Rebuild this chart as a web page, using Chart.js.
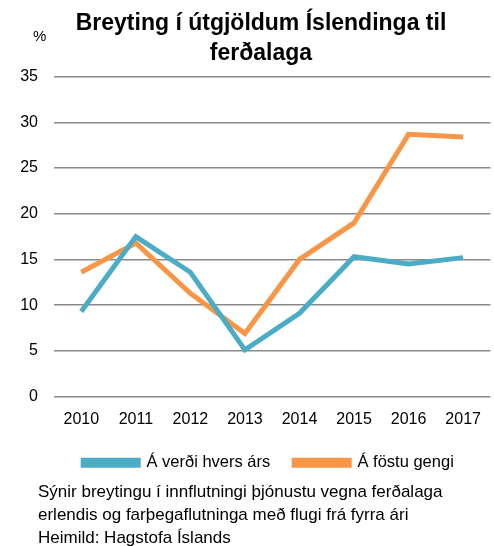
<!DOCTYPE html>
<html><head><meta charset="utf-8">
<script src="https://cdn.jsdelivr.net/npm/chart.js@4/dist/chart.umd.min.js"></script>
<style>
html,body{margin:0;padding:0;background:#fff;}
#wrap{position:relative;width:494px;height:546px;}
#c{position:absolute;left:0;top:0;}
.t{position:absolute;font-family:"Liberation Sans",Arial,sans-serif;color:#000;}
#pct{left:33px;top:27px;font-size:15px;}
#cap{left:38px;top:480px;font-size:17px;line-height:23px;white-space:nowrap;}
</style></head><body>
<div id="wrap">
<canvas id="c" width="494" height="546"></canvas>
<div class="t" id="pct">%</div>
<div class="t" id="cap">Sýnir breytingu í innflutningi þjónustu vegna ferðalaga<br>erlendis og farþegaflutninga með flugi frá fyrra ári<br>Heimild: Hagstofa Íslands</div>
</div>
<script>
const years = ["2010","2011","2012","2013","2014","2015","2016","2017"];
const verdiHversArs = [9.3, 17.5, 13.6, 5.1, 9.1, 15.3, 14.5, 15.2];
const fostuGengi = [13.6, 16.8, 11.3, 6.9, 15.0, 19.0, 28.7, 28.4];
const seriesNames = ["Á verði hvers árs", "Á föstu gengi"];
const titleLines = ["Breyting í útgjöldum Íslendinga til", "ferðalaga"];

const FONT = "'Liberation Sans', Arial, sans-serif";
const shiftBlocks = {
  id: 'shiftBlocks',
  afterLayout(chart) {
    if (chart.titleBlock) { chart.titleBlock.left += 29; }
    if (chart.legend) { chart.legend.left += 22; chart.legend.right += 22; }
  }
};
new Chart(document.getElementById('c'), {
  type: 'line',
  data: {
    labels: years,
    datasets: [
      {label: seriesNames[0], data: verdiHversArs, borderColor: '#4BACC6', backgroundColor: '#4BACC6', borderWidth: 5, pointRadius: 0, tension: 0},
      {label: seriesNames[1], data: fostuGengi, borderColor: '#F79646', backgroundColor: '#F79646', borderWidth: 5, pointRadius: 0, tension: 0}
    ]
  },
  options: {
    responsive: false,
    animation: false,
    layout: {padding: {left: 0, right: 1, top: 4, bottom: 65}},
    plugins: {
      title: {display: true, text: titleLines, color: '#000', font: {family: FONT, size: 23, weight: 'bold', lineHeight: 1.32}, padding: {top: 4, bottom: 8}},
      legend: {position: 'bottom', labels: {color: '#000', font: {family: FONT, size: 16.5}, boxWidth: 55, boxHeight: 5, padding: 24}},
      tooltip: {enabled: false}
    },
    scales: {
      x: {
        offset: true,
        grid: {display: false, drawTicks: false},
        border: {display: false},
        ticks: {color: '#000', font: {family: FONT, size: 16}, padding: 13, maxRotation: 0},
        afterFit: s => { s.height = 34; }
      },
      y: {
        min: 0, max: 35,
        grid: {color: '#8a8a8a', lineWidth: 1.5, drawTicks: false},
        border: {display: false},
        ticks: {stepSize: 5, color: '#000', font: {family: FONT, size: 16}, padding: 16},
        afterFit: s => { s.width = 54; }
      }
    }
  },
  plugins: [shiftBlocks]
});
</script>
</body></html>
